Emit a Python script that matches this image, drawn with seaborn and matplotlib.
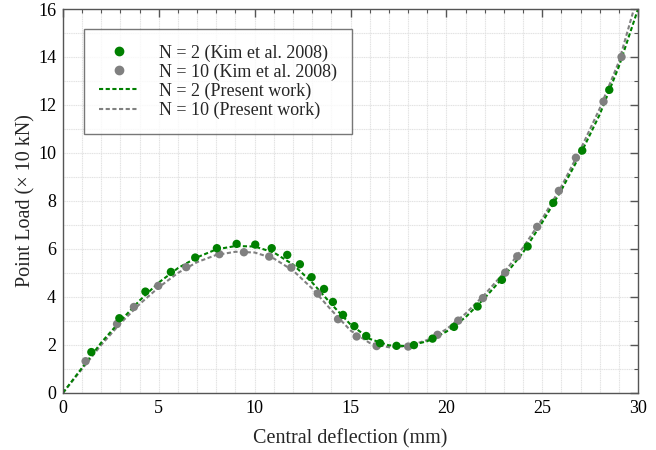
import matplotlib
matplotlib.use("Agg")
import matplotlib.pyplot as plt
import pandas as pd
import seaborn as sns
from matplotlib.lines import Line2D
from matplotlib.ticker import MultipleLocator

# Kim et al. 2008 reference points (deflection mm, load x10 kN)
kim_n2_x = [1.48, 2.94, 4.30, 5.63, 6.90, 8.03, 9.06, 10.03, 10.89, 11.70, 12.36, 12.97,
            13.62, 14.08, 14.61, 15.20, 15.82, 16.54, 17.40, 18.31, 19.28, 20.40, 21.63,
            22.90, 24.24, 25.58, 27.09, 28.50]
kim_n2_y = [1.70, 3.11, 4.22, 5.04, 5.64, 6.03, 6.21, 6.18, 6.03, 5.75, 5.36, 4.82,
            4.33, 3.79, 3.25, 2.78, 2.37, 2.07, 1.96, 1.99, 2.26, 2.75, 3.60,
            4.71, 6.10, 7.92, 10.10, 12.63]

kim_n10_x = [1.18, 2.82, 3.70, 4.97, 6.43, 8.16, 9.44, 10.76, 11.91, 13.29, 14.35, 15.32,
             16.36, 18.01, 19.54, 20.62, 21.91, 23.07, 23.70, 24.74, 25.87, 26.76, 28.20, 29.14]
kim_n10_y = [1.32, 2.87, 3.58, 4.46, 5.24, 5.78, 5.86, 5.68, 5.22, 4.14, 3.07, 2.35,
             1.95, 1.93, 2.42, 3.01, 3.95, 5.01, 5.69, 6.92, 8.42, 9.80, 12.14, 14.00]

# Present work curves
pw_x = list(range(0, 31))
pw_n2_y = [0.0, 1.05, 2.10, 3.00, 3.85, 4.60, 5.20, 5.65, 5.98, 6.12, 6.10, 5.85, 5.35,
           4.60, 3.70, 2.85, 2.25, 1.98, 1.95, 2.15, 2.55, 3.15, 3.95, 4.85, 5.85,
           7.10, 8.45, 9.95, 11.60, 13.60, 16.00]
pw_n10_y = [0.0, 1.00, 2.00, 2.90, 3.70, 4.40, 5.00, 5.45, 5.75, 5.88, 5.85, 5.60, 5.10,
            4.35, 3.45, 2.60, 2.08, 1.90, 1.95, 2.20, 2.65, 3.30, 4.10, 5.00, 6.05,
            7.25, 8.60, 10.15, 11.85, 13.80, 16.60]

GREEN = "#008000"
GRAY = "#808080"

sns.set_theme(style="white")
plt.rcParams["font.family"] = ["Liberation Serif", "DejaVu Serif"]

fig = plt.figure(figsize=(6.56, 4.5), dpi=100)
ax = fig.add_axes([0.096, 0.127, 0.8766, 0.853])

df_pw = pd.DataFrame({"x": pw_x, "n2": pw_n2_y, "n10": pw_n10_y})
dash = (0, (2.0, 1.2))
sns.lineplot(data=df_pw, x="x", y="n10", color=GRAY, lw=1.5, linestyle=dash, ax=ax)
sns.lineplot(data=df_pw, x="x", y="n2", color=GREEN, lw=1.5, linestyle=dash, ax=ax)

df_n2 = pd.DataFrame({"x": kim_n2_x, "y": kim_n2_y})
df_n10 = pd.DataFrame({"x": kim_n10_x, "y": kim_n10_y})
sns.scatterplot(data=df_n10, x="x", y="y", color=GRAY, s=36, edgecolor="none", ax=ax, zorder=3)
sns.scatterplot(data=df_n2, x="x", y="y", color=GREEN, s=36, edgecolor="none", ax=ax, zorder=3)

ax.set_xlim(0, 30)
ax.set_ylim(0, 16)
ax.xaxis.set_major_locator(MultipleLocator(5))
ax.xaxis.set_minor_locator(MultipleLocator(1))
ax.yaxis.set_major_locator(MultipleLocator(2))
ax.yaxis.set_minor_locator(MultipleLocator(1))
ax.grid(which="both", color="#e2e2e2", lw=0.8, linestyle=(0, (1, 0.6)))
ax.set_axisbelow(True)
ax.tick_params(which="both", direction="in", top=True, right=True, color="#555555",
               labelsize=13, labelcolor="black")
ax.tick_params(which="major", length=6, width=1, pad=5)
ax.tick_params(which="minor", length=3, width=0.8)
for sp in ax.spines.values():
    sp.set_color("#555555")
    sp.set_linewidth(1.0)

ax.set_xlabel("Central deflection (mm)", fontsize=14.5, labelpad=9)
ax.set_ylabel("Point Load (× 10 kN)", fontsize=14.5, labelpad=2)

handles = [
    Line2D([], [], marker="o", color=GREEN, linestyle="none", markersize=6),
    Line2D([], [], marker="o", color=GRAY, linestyle="none", markersize=6),
    Line2D([], [], color=GREEN, lw=1.5, linestyle=dash),
    Line2D([], [], color=GRAY, lw=1.5, linestyle=dash),
]
labels = ["N = 2 (Kim et al. 2008)", "N = 10 (Kim et al. 2008)",
          "N = 2 (Present work)", "N = 10 (Present work)"]
leg = ax.legend(handles, labels, loc="upper left", bbox_to_anchor=(0.036, 0.948),
                borderaxespad=0, fontsize=13, frameon=True, fancybox=False,
                handlelength=2.2, handletextpad=1.1, labelspacing=0.1, borderpad=0.85)
leg.get_frame().set_edgecolor("#555555")
leg.get_frame().set_linewidth(1.0)

fig.savefig("out.png", dpi=100)
